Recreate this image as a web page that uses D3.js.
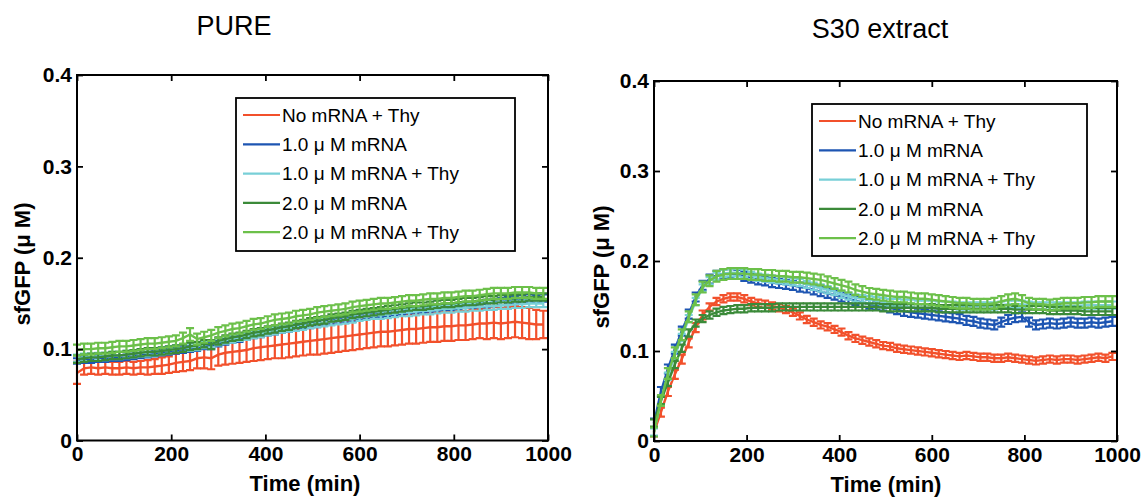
<!DOCTYPE html>
<html>
<head>
<meta charset="utf-8">
<script src="https://cdn.jsdelivr.net/npm/d3@7"></script>
<style>
body { margin: 0; background: #fff; }
svg { display: block; font-family: Arial, "Liberation Sans", Helvetica, sans-serif; }
</style>
</head>
<body>
<svg></svg>
<script>
const size = {w: 1142, h: 497};
const svg = d3.select('svg').attr('width', size.w).attr('height', size.h);

// sampling grid of the time course (min)
const times = d3.range(0, 991, 15);

const seriesNames = ['No mRNA + Thy', '1.0 \u03bc M mRNA', '1.0 \u03bc M mRNA + Thy', '2.0 \u03bc M mRNA', '2.0 \u03bc M mRNA + Thy'];
const seriesColors = ['#f2502b', '#1d55b2', '#78cfd7', '#3b8a39', '#6cc04a'];

const xTicks = [0, 200, 400, 600, 800, 1000];
const xTickLabels = ['0', '200', '400', '600', '800', '1000'];
const yTicks = [0, 0.1, 0.2, 0.3, 0.4];
const yTickLabels = ['0', '0.1', '0.2', '0.3', '0.4'];

// ---------- PURE ----------
const pureRed = [0.074,0.079,0.080,0.079,0.080,0.079,0.079,0.080,0.079,0.080,
  0.080,0.081,0.082,0.083,0.085,0.086,0.087,0.090,0.091,0.090,
  0.094,0.096,0.097,0.098,0.099,0.101,0.102,0.103,0.104,0.105,
  0.106,0.107,0.108,0.109,0.110,0.111,0.112,0.113,0.114,0.115,
  0.116,0.117,0.118,0.119,0.119,0.120,0.121,0.122,0.122,0.123,
  0.124,0.124,0.125,0.125,0.126,0.126,0.127,0.128,0.128,0.129,
  0.128,0.129,0.130,0.129,0.128,0.127,0.127];
const pureRedErr = [0.012,0.007,0.007,0.007,0.007,0.007,0.007,0.007,0.007,0.007,
  0.008,0.008,0.009,0.009,0.010,0.010,0.010,0.011,0.012,0.012,
  0.012,0.013,0.013,0.013,0.013,0.014,0.014,0.014,0.014,0.015,
  0.015,0.015,0.015,0.015,0.016,0.016,0.016,0.016,0.016,0.016,
  0.016,0.016,0.016,0.016,0.016,0.016,0.016,0.016,0.016,0.016,
  0.016,0.016,0.016,0.016,0.016,0.016,0.016,0.016,0.017,0.017,
  0.017,0.017,0.017,0.017,0.017,0.016,0.015];
const pureBlue = [0.087,0.088,0.088,0.089,0.089,0.090,0.090,0.091,0.092,0.093,
  0.094,0.095,0.096,0.097,0.098,0.099,0.100,0.101,0.103,0.104,
  0.106,0.108,0.110,0.111,0.113,0.115,0.116,0.118,0.119,0.121,
  0.122,0.123,0.125,0.126,0.127,0.129,0.130,0.131,0.132,0.133,
  0.135,0.136,0.137,0.138,0.139,0.140,0.141,0.142,0.143,0.143,
  0.144,0.145,0.146,0.146,0.147,0.148,0.148,0.149,0.150,0.151,
  0.152,0.153,0.154,0.155,0.156,0.155,0.156];
const pureBlueErr = [0.003,0.003,0.003,0.003,0.003,0.003,0.003,0.003,0.003,0.003,
  0.003,0.003,0.003,0.003,0.003,0.003,0.003,0.003,0.003,0.004,
  0.003,0.003,0.003,0.003,0.003,0.003,0.003,0.003,0.003,0.003,
  0.003,0.003,0.003,0.003,0.003,0.003,0.003,0.003,0.003,0.003,
  0.003,0.003,0.003,0.003,0.003,0.003,0.003,0.003,0.003,0.003,
  0.003,0.003,0.003,0.003,0.003,0.003,0.003,0.003,0.004,0.004,
  0.004,0.004,0.004,0.004,0.004,0.004,0.004];
const pureCyan = [0.090,0.091,0.091,0.092,0.092,0.093,0.093,0.094,0.095,0.096,
  0.096,0.097,0.098,0.099,0.100,0.101,0.102,0.103,0.105,0.106,
  0.108,0.110,0.111,0.113,0.114,0.116,0.117,0.119,0.120,0.122,
  0.123,0.124,0.125,0.127,0.128,0.129,0.130,0.131,0.132,0.133,
  0.135,0.136,0.137,0.137,0.138,0.139,0.140,0.140,0.141,0.142,
  0.142,0.143,0.144,0.144,0.145,0.145,0.146,0.146,0.147,0.147,
  0.148,0.148,0.149,0.149,0.150,0.150,0.150];
const pureCyanErr = [0.004,0.004,0.004,0.004,0.004,0.004,0.004,0.004,0.004,0.004,
  0.004,0.004,0.004,0.004,0.004,0.004,0.004,0.004,0.004,0.004,
  0.004,0.004,0.004,0.004,0.004,0.004,0.004,0.004,0.004,0.004,
  0.004,0.004,0.004,0.004,0.004,0.004,0.004,0.004,0.004,0.004,
  0.004,0.004,0.004,0.004,0.004,0.004,0.004,0.004,0.004,0.004,
  0.004,0.004,0.004,0.004,0.004,0.004,0.004,0.004,0.004,0.004,
  0.004,0.004,0.004,0.004,0.004,0.004,0.004];
const pureDkGreen = [0.089,0.090,0.091,0.091,0.092,0.093,0.093,0.094,0.095,0.096,
  0.097,0.097,0.098,0.099,0.100,0.101,0.103,0.104,0.106,0.105,
  0.109,0.111,0.113,0.114,0.116,0.118,0.119,0.121,0.122,0.124,
  0.125,0.127,0.128,0.130,0.131,0.132,0.134,0.135,0.136,0.138,
  0.139,0.140,0.141,0.142,0.143,0.144,0.145,0.146,0.147,0.147,
  0.148,0.149,0.150,0.150,0.151,0.152,0.152,0.153,0.154,0.154,
  0.155,0.155,0.156,0.156,0.157,0.157,0.157];
const pureDkGreenErr = [0.004,0.004,0.004,0.004,0.004,0.004,0.004,0.004,0.004,0.004,
  0.004,0.004,0.004,0.004,0.004,0.004,0.004,0.004,0.004,0.005,
  0.004,0.004,0.004,0.004,0.004,0.004,0.004,0.004,0.004,0.004,
  0.004,0.004,0.004,0.004,0.004,0.004,0.004,0.004,0.004,0.004,
  0.004,0.004,0.004,0.004,0.004,0.004,0.004,0.004,0.004,0.004,
  0.004,0.004,0.004,0.004,0.004,0.004,0.004,0.004,0.004,0.004,
  0.004,0.004,0.004,0.004,0.004,0.004,0.004];
const pureLtGreen = [0.099,0.100,0.100,0.101,0.101,0.102,0.103,0.103,0.104,0.105,
  0.106,0.106,0.107,0.108,0.109,0.112,0.116,0.111,0.113,0.115,
  0.118,0.120,0.122,0.123,0.125,0.127,0.128,0.130,0.132,0.133,
  0.134,0.136,0.137,0.138,0.140,0.141,0.142,0.143,0.144,0.146,
  0.147,0.148,0.149,0.150,0.150,0.151,0.152,0.153,0.153,0.154,
  0.155,0.155,0.156,0.156,0.157,0.158,0.158,0.159,0.160,0.161,
  0.161,0.161,0.162,0.162,0.162,0.161,0.161];
const pureLtGreenErr = [0.006,0.006,0.006,0.006,0.006,0.006,0.006,0.006,0.006,0.006,
  0.006,0.006,0.006,0.006,0.006,0.006,0.007,0.006,0.006,0.006,
  0.006,0.006,0.006,0.006,0.006,0.006,0.006,0.006,0.006,0.006,
  0.006,0.006,0.006,0.006,0.006,0.006,0.006,0.006,0.006,0.006,
  0.006,0.006,0.006,0.006,0.006,0.006,0.006,0.006,0.006,0.006,
  0.006,0.006,0.006,0.006,0.006,0.006,0.006,0.006,0.006,0.006,
  0.006,0.006,0.006,0.006,0.006,0.006,0.006];

// ---------- S30 extract ----------
const s30Red = [0.010,0.032,0.055,0.074,0.091,0.109,0.126,0.140,0.149,0.155,
  0.158,0.160,0.160,0.158,0.155,0.153,0.152,0.150,0.148,0.146,
  0.143,0.139,0.135,0.132,0.129,0.127,0.124,0.121,0.117,0.114,
  0.112,0.110,0.108,0.106,0.105,0.103,0.102,0.101,0.100,0.099,
  0.098,0.097,0.096,0.095,0.094,0.095,0.094,0.093,0.093,0.092,
  0.092,0.093,0.092,0.091,0.090,0.089,0.090,0.091,0.090,0.091,
  0.091,0.090,0.091,0.092,0.093,0.092,0.094];
const s30RedErr = [0.005,0.005,0.005,0.005,0.005,0.005,0.005,0.005,0.004,0.004,
  0.004,0.004,0.004,0.004,0.004,0.004,0.004,0.004,0.004,0.004,
  0.004,0.004,0.004,0.004,0.004,0.004,0.004,0.004,0.004,0.004,
  0.004,0.004,0.004,0.004,0.004,0.004,0.004,0.004,0.004,0.004,
  0.004,0.004,0.004,0.004,0.004,0.004,0.004,0.004,0.004,0.004,
  0.004,0.004,0.004,0.004,0.004,0.004,0.004,0.004,0.004,0.004,
  0.004,0.004,0.004,0.004,0.004,0.004,0.004];
const s30Blue = [0.020,0.055,0.080,0.102,0.122,0.141,0.160,0.173,0.180,0.184,
  0.186,0.186,0.185,0.183,0.181,0.179,0.178,0.176,0.175,0.174,
  0.173,0.171,0.170,0.168,0.166,0.164,0.162,0.160,0.158,0.156,
  0.154,0.152,0.151,0.150,0.148,0.146,0.144,0.143,0.142,0.141,
  0.140,0.139,0.138,0.137,0.136,0.134,0.133,0.131,0.130,0.129,
  0.132,0.135,0.137,0.138,0.132,0.129,0.130,0.131,0.130,0.131,
  0.132,0.131,0.131,0.132,0.131,0.132,0.133];
const s30BlueErr = [0.005,0.005,0.005,0.005,0.005,0.005,0.005,0.005,0.005,0.005,
  0.005,0.005,0.005,0.005,0.005,0.005,0.005,0.005,0.005,0.005,
  0.005,0.005,0.005,0.005,0.005,0.005,0.005,0.005,0.005,0.005,
  0.005,0.005,0.005,0.005,0.005,0.005,0.005,0.005,0.005,0.005,
  0.005,0.005,0.005,0.005,0.005,0.005,0.005,0.005,0.005,0.005,
  0.005,0.005,0.005,0.005,0.005,0.005,0.005,0.005,0.005,0.005,
  0.005,0.005,0.005,0.005,0.005,0.005,0.005];
const s30Cyan = [0.010,0.045,0.072,0.095,0.115,0.136,0.155,0.170,0.178,0.183,
  0.186,0.187,0.187,0.186,0.184,0.182,0.181,0.180,0.179,0.178,
  0.177,0.176,0.174,0.172,0.170,0.168,0.166,0.163,0.161,0.159,
  0.158,0.157,0.156,0.155,0.154,0.154,0.153,0.153,0.152,0.152,
  0.152,0.151,0.151,0.151,0.150,0.150,0.150,0.150,0.150,0.150,
  0.151,0.152,0.152,0.152,0.151,0.150,0.150,0.150,0.150,0.150,
  0.150,0.150,0.151,0.151,0.151,0.151,0.151];
const s30CyanErr = [0.004,0.004,0.004,0.004,0.004,0.004,0.004,0.004,0.004,0.004,
  0.004,0.004,0.004,0.004,0.004,0.004,0.004,0.004,0.004,0.004,
  0.004,0.004,0.004,0.004,0.004,0.004,0.004,0.004,0.004,0.004,
  0.004,0.004,0.004,0.004,0.004,0.004,0.004,0.004,0.004,0.004,
  0.004,0.004,0.004,0.004,0.004,0.004,0.004,0.004,0.004,0.004,
  0.004,0.004,0.004,0.004,0.004,0.004,0.004,0.004,0.004,0.004,
  0.004,0.004,0.004,0.004,0.004,0.004,0.004];
const s30DkGreen = [0.020,0.045,0.065,0.085,0.103,0.120,0.131,0.136,0.140,0.143,
  0.145,0.146,0.147,0.147,0.148,0.148,0.148,0.148,0.149,0.149,
  0.149,0.149,0.149,0.149,0.149,0.149,0.149,0.149,0.149,0.149,
  0.149,0.149,0.149,0.148,0.148,0.148,0.148,0.148,0.148,0.148,
  0.148,0.147,0.147,0.147,0.147,0.147,0.147,0.147,0.147,0.147,
  0.147,0.147,0.146,0.146,0.146,0.146,0.146,0.145,0.145,0.145,
  0.145,0.145,0.144,0.144,0.144,0.144,0.144];
const s30DkGreenErr = [0.004,0.004,0.004,0.004,0.004,0.004,0.004,0.004,0.004,0.004,
  0.004,0.004,0.004,0.004,0.004,0.004,0.004,0.004,0.004,0.004,
  0.004,0.004,0.004,0.004,0.004,0.004,0.004,0.004,0.004,0.004,
  0.004,0.004,0.004,0.004,0.004,0.004,0.004,0.004,0.004,0.004,
  0.004,0.004,0.004,0.004,0.004,0.004,0.004,0.004,0.004,0.004,
  0.004,0.004,0.004,0.004,0.004,0.004,0.004,0.004,0.004,0.004,
  0.004,0.004,0.004,0.004,0.004,0.004,0.004];
const s30LtGreen = [0.010,0.045,0.075,0.098,0.118,0.138,0.157,0.171,0.178,0.183,
  0.185,0.186,0.186,0.186,0.185,0.185,0.184,0.184,0.183,0.183,
  0.182,0.182,0.181,0.180,0.179,0.177,0.175,0.173,0.171,0.168,
  0.166,0.164,0.163,0.162,0.161,0.160,0.160,0.159,0.158,0.158,
  0.157,0.156,0.155,0.154,0.153,0.153,0.152,0.152,0.152,0.153,
  0.155,0.157,0.158,0.156,0.153,0.152,0.152,0.151,0.152,0.153,
  0.153,0.153,0.154,0.154,0.155,0.155,0.155];
const s30LtGreenErr = [0.005,0.006,0.006,0.006,0.006,0.006,0.006,0.006,0.006,0.006,
  0.006,0.006,0.006,0.006,0.006,0.006,0.006,0.006,0.006,0.006,
  0.006,0.006,0.006,0.006,0.006,0.006,0.006,0.006,0.006,0.006,
  0.006,0.006,0.006,0.006,0.006,0.006,0.006,0.006,0.006,0.006,
  0.006,0.006,0.006,0.006,0.006,0.006,0.006,0.006,0.006,0.006,
  0.006,0.006,0.006,0.006,0.006,0.006,0.006,0.006,0.006,0.006,
  0.006,0.006,0.006,0.006,0.006,0.006,0.006];

// panel layout (pixel boxes of the two axes)
const panels = [
  {
    title: 'PURE', titleX: 234, titleY: 35,
    means: [pureRed, pureBlue, pureCyan, pureDkGreen, pureLtGreen],
    errs: [pureRedErr, pureBlueErr, pureCyanErr, pureDkGreenErr, pureLtGreenErr],
    xr: [77, 548], yr: [440.5, 75],
    ylabX: 30, ylabY: 264, xlabX: 305, xlabY: 491,
    legend: {x: 236, y: 98, w: 279, h: 153}
  },
  {
    title: 'S30 extract', titleX: 880, titleY: 38,
    means: [s30Red, s30Blue, s30Cyan, s30DkGreen, s30LtGreen],
    errs: [s30RedErr, s30BlueErr, s30CyanErr, s30DkGreenErr, s30LtGreenErr],
    xr: [654, 1117], yr: [441, 81],
    ylabX: 609, ylabY: 267, xlabX: 886, xlabY: 492,
    legend: {x: 812, y: 104, w: 275, h: 152}
  }
];

panels.forEach(drawPanel);

function drawPanel(p) {
  const g = svg.append('g');
  const x = d3.scaleLinear().domain([0, 1000]).range(p.xr);
  const y = d3.scaleLinear().domain([0, 0.4]).range(p.yr);

  // error bar series, drawn in legend order
  p.means.forEach((m, si) => {
    const e = p.errs[si];
    const pts = times.map((t, i) => ({t: t, v: m[i], e: e[i]}));
    const sg = g.append('g')
      .attr('stroke', seriesColors[si])
      .attr('fill', 'none')
      .attr('stroke-width', 2.2);
    sg.selectAll('path.bar')
      .data(pts)
      .join('path')
      .classed('bar', true)
      .attr('d', d => {
        const cx = x(d.t), lo = y(d.v - d.e), hi = y(d.v + d.e);
        return `M${cx},${lo}V${hi}M${cx - 4},${lo}H${cx + 4}M${cx - 4},${hi}H${cx + 4}`;
      });
    sg.append('path')
      .datum(pts)
      .attr('stroke-width', 2.4)
      .attr('d', d3.line().x(d => x(d.t)).y(d => y(d.v)));
  });

  // axes: ticks pointing inward on all four sides
  const bottom = g.append('g')
    .attr('transform', `translate(0,${p.yr[0]})`)
    .call(d3.axisBottom(x).tickValues(xTicks).tickFormat((d, i) => xTickLabels[i])
      .tickSize(-6).tickSizeOuter(0).tickPadding(6));
  const left = g.append('g')
    .attr('transform', `translate(${p.xr[0]},0)`)
    .call(d3.axisLeft(y).tickValues(yTicks).tickFormat((d, i) => yTickLabels[i])
      .tickSize(-6).tickSizeOuter(0).tickPadding(5));
  const top = g.append('g')
    .attr('transform', `translate(0,${p.yr[1]})`)
    .call(d3.axisTop(x).tickValues(xTicks).tickFormat('').tickSize(-6).tickSizeOuter(0));
  const right = g.append('g')
    .attr('transform', `translate(${p.xr[1]},0)`)
    .call(d3.axisRight(y).tickValues(yTicks).tickFormat('').tickSize(-6).tickSizeOuter(0));

  [bottom, left, top, right].forEach(a => {
    a.select('.domain').remove();
    a.selectAll('.tick line').attr('stroke', '#000').attr('stroke-width', 1.8);
    a.selectAll('.tick text')
      .attr('fill', '#000')
      .style('font-family', 'Arial, "Liberation Sans", sans-serif')
      .style('font-size', '21px')
      .style('font-weight', 'bold');
  });

  g.append('rect')
    .attr('x', p.xr[0]).attr('y', p.yr[1])
    .attr('width', p.xr[1] - p.xr[0]).attr('height', p.yr[0] - p.yr[1])
    .attr('fill', 'none').attr('stroke', '#000').attr('stroke-width', 2);

  // titles and axis labels
  g.append('text')
    .attr('x', p.titleX).attr('y', p.titleY)
    .attr('text-anchor', 'middle')
    .style('font-size', '27px')
    .text(p.title);
  g.append('text')
    .attr('x', p.xlabX).attr('y', p.xlabY)
    .attr('text-anchor', 'middle')
    .style('font-size', '22px').style('font-weight', 'bold')
    .text('Time (min)');
  g.append('text')
    .attr('transform', `translate(${p.ylabX},${p.ylabY}) rotate(-90)`)
    .attr('text-anchor', 'middle')
    .style('font-size', '22px').style('font-weight', 'bold')
    .text('sfGFP (\u03bc M)');

  // legend
  const L = p.legend;
  const lg = g.append('g').attr('transform', `translate(${L.x},${L.y})`);
  lg.append('rect')
    .attr('width', L.w).attr('height', L.h)
    .attr('fill', '#fff').attr('stroke', '#000').attr('stroke-width', 1.8);
  const rows = lg.selectAll('g.row')
    .data(seriesNames)
    .join('g')
    .classed('row', true)
    .attr('transform', (d, i) => `translate(0,${17 + i * 29.3})`);
  rows.append('line')
    .attr('x1', 7).attr('x2', 44)
    .attr('stroke', (d, i) => seriesColors[i])
    .attr('stroke-width', 2.2);
  rows.append('text')
    .attr('x', 46).attr('dy', '0.36em')
    .style('font-size', '19px')
    .text(d => d);
}
</script>
</body>
</html>
